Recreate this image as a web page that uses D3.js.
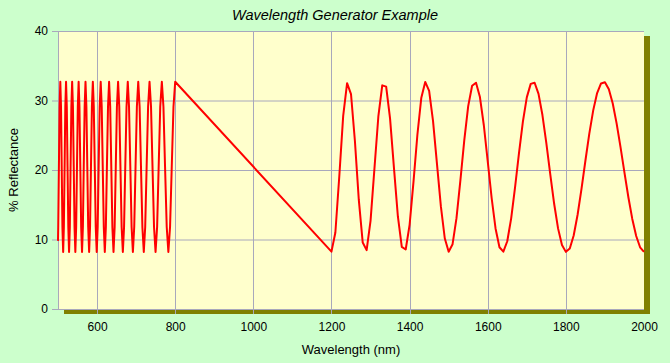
<!DOCTYPE html>
<html>
<head>
<meta charset="utf-8">
<script src="https://cdn.jsdelivr.net/npm/d3@7"></script>
<style>
  body { margin: 0; background: #ccffcc; }
  svg { display: block; font-family: "Liberation Sans", Arial, sans-serif; }
</style>
</head>
<body>
<svg id="chart"></svg>
<script>
// wavelength (nm) and % reflectance
const wavelength = [
  500.0, 500.6, 502.3, 504.1, 505.9, 507.7, 509.5, 511.3, 513.2, 515.0,
  516.9, 518.7, 520.6, 522.5, 524.4, 526.4, 528.3, 530.3, 532.2, 534.2,
  536.2, 538.2, 540.3, 542.3, 544.4, 546.5, 548.6, 550.7, 552.8, 554.9,
  557.1, 559.3, 561.5, 563.7, 565.9, 568.2, 570.4, 572.7, 575.0, 577.3,
  579.7, 582.0, 584.4, 586.8, 589.2, 591.6, 594.1, 596.6, 599.1, 601.6,
  604.1, 606.7, 609.3, 611.9, 614.5, 617.2, 619.8, 622.5, 625.2, 628.0,
  630.8, 633.6, 636.4, 639.2, 642.1, 645.0, 647.9, 650.8, 653.8, 656.8,
  659.8, 662.9, 666.0, 669.1, 672.2, 675.4, 678.6, 681.8, 685.1, 688.4,
  691.7, 695.1, 698.5, 701.9, 705.4, 708.9, 712.4, 716.0, 719.6, 723.2,
  726.9, 730.6, 734.3, 738.1, 741.9, 745.8, 749.7, 753.7, 757.7, 761.7,
  765.8, 769.9, 774.0, 778.3, 782.5, 786.8, 791.2, 795.6, 800.0,
  1200, 1210, 1220, 1230, 1240, 1250, 1260, 1270, 1280, 1290,
  1300, 1310, 1320, 1330, 1340, 1350, 1360, 1370, 1380, 1390,
  1400, 1410, 1420, 1430, 1440, 1450, 1460, 1470, 1480, 1490,
  1500, 1510, 1520, 1530, 1540, 1550, 1560, 1570, 1580, 1590,
  1600, 1610, 1620, 1630, 1640, 1650, 1660, 1670, 1680, 1690,
  1700, 1710, 1720, 1730, 1740, 1750, 1760, 1770, 1780, 1790,
  1800, 1810, 1820, 1830, 1840, 1850, 1860, 1870, 1880, 1890,
  1900, 1910, 1920, 1930, 1940, 1950, 1960, 1970, 1980, 1990, 2000
];

const reflectance = [
  9.8, 11.8, 20.5, 29.1,
  32.7, 29.1, 20.5, 11.8, 8.2, 11.8, 20.5, 29.1,
  32.7, 29.1, 20.5, 11.8, 8.2, 11.8, 20.5, 29.1,
  32.7, 29.1, 20.5, 11.8, 8.2, 11.8, 20.5, 29.1,
  32.7, 29.1, 20.5, 11.8, 8.2, 11.8, 20.5, 29.1,
  32.7, 29.1, 20.5, 11.8, 8.2, 11.8, 20.5, 29.1,
  32.7, 29.1, 20.5, 11.8, 8.2, 11.8, 20.5, 29.1,
  32.7, 29.1, 20.5, 11.8, 8.2, 11.8, 20.5, 29.1,
  32.7, 29.1, 20.5, 11.8, 8.2, 11.8, 20.5, 29.1,
  32.7, 29.1, 20.5, 11.8, 8.2, 11.8, 20.5, 29.1,
  32.7, 29.1, 20.5, 11.8, 8.2, 11.8, 20.5, 29.1,
  32.7, 29.1, 20.5, 11.8, 8.2, 11.8, 20.5, 29.1,
  32.7, 29.1, 20.5, 11.8, 8.2, 11.8, 20.5, 29.1,
  32.7, 29.1, 20.5, 11.8, 8.2, 11.8, 20.5, 29.1,
  32.7,
  8.25, 11.0, 19.07, 27.78, 32.49, 30.93, 24.17, 15.69, 9.56, 8.47,
  12.69, 20.2, 27.7, 32.18, 31.99, 27.4, 20.27, 13.31, 8.94, 8.56,
  12.11, 18.32, 25.11, 30.4, 32.67, 31.38, 27.02, 20.93, 14.79, 10.18,
  8.23, 9.32, 13.07, 18.5, 24.29, 29.19, 32.12, 32.56, 30.49, 26.44,
  21.25, 15.97, 11.59, 8.88, 8.25, 9.75, 13.05, 17.53, 22.43, 26.97,
  30.45, 32.39, 32.55, 30.96, 27.91, 23.87, 19.42, 15.14, 11.6, 9.21,
  8.22, 8.71, 10.58, 13.56, 17.29, 21.33, 25.24, 28.58, 31.07, 32.45,
  32.62, 31.62, 29.56, 26.67, 23.25, 19.61, 16.08, 12.96, 10.5, 8.88, 8.22
];

const xTicks = [600, 800, 1000, 1200, 1400, 1600, 1800, 2000];
const yTicks = [0, 10, 20, 30, 40];

const W = 670, H = 363;
const margin = { top: 31, right: 26, bottom: 54, left: 58 };
const width = W - margin.left - margin.right;
const height = H - margin.top - margin.bottom;

const svg = d3.select("#chart").attr("width", W).attr("height", H);

svg.append("rect").attr("width", W).attr("height", H).attr("fill", "#ccffcc");

const g = svg.append("g")
  .attr("transform", "translate(" + margin.left + "," + margin.top + ")");

const x = d3.scaleLinear().domain([500, 2000]).range([0, width]);
const y = d3.scaleLinear().domain([0, 40]).range([height, 0]);

// drop shadow + plot background
g.append("rect")
  .attr("x", 6).attr("y", 5)
  .attr("width", width).attr("height", height)
  .attr("fill", "#808000");
g.append("rect")
  .attr("width", width).attr("height", height)
  .attr("fill", "#ffffcc");

// grid
g.selectAll(".hgrid").data(yTicks).enter().append("line")
  .attr("x1", 0).attr("x2", width)
  .attr("y1", (d) => y(d) + 0.5).attr("y2", (d) => y(d) + 0.5)
  .attr("stroke", "#a8a8bc");
g.selectAll(".vgrid").data(xTicks.filter((d) => d < 2000)).enter().append("line")
  .attr("x1", (d) => Math.round(x(d)) + 0.5).attr("x2", (d) => Math.round(x(d)) + 0.5)
  .attr("y1", 0).attr("y2", height + 5)
  .attr("stroke", "#a8a8bc");

// axes
const yAxis = d3.axisLeft(y).tickValues(yTicks).tickSize(6).tickPadding(4);
const xAxis = d3.axisBottom(x).tickValues(xTicks).tickSize(5).tickPadding(8)
  .tickFormat(d3.format("d"));

const ya = g.append("g").call(yAxis);
ya.select(".domain").attr("stroke", "#a8a8bc").attr("d", "M0.5,0V" + height);
ya.selectAll(".tick line").attr("stroke", "#a8a8bc");
ya.selectAll(".tick text").attr("font-size", 12).attr("fill", "#000")
  .attr("font-family", "Liberation Sans, Arial, sans-serif");

const xa = g.append("g").attr("transform", "translate(0," + height + ")").call(xAxis);
xa.select(".domain").remove();
xa.selectAll(".tick line").remove();
xa.selectAll(".tick text").attr("font-size", 12).attr("fill", "#000")
  .attr("font-family", "Liberation Sans, Arial, sans-serif");

// data line
const pts = wavelength.map((w, i) => [w, reflectance[i]]);
g.append("path")
  .datum(pts)
  .attr("fill", "none")
  .attr("stroke", "#ff0000")
  .attr("stroke-width", 2)
  .attr("stroke-linejoin", "round")
  .attr("d", d3.line().x((d) => x(d[0])).y((d) => y(d[1])));

// titles
svg.append("text")
  .attr("x", W / 2).attr("y", 20)
  .attr("text-anchor", "middle")
  .attr("font-size", 14.5).attr("font-style", "italic")
  .text("Wavelength Generator Example");

svg.append("text")
  .attr("x", margin.left + width / 2).attr("y", 354)
  .attr("text-anchor", "middle")
  .attr("font-size", 13)
  .text("Wavelength (nm)");

svg.append("text")
  .attr("transform", "translate(18," + (margin.top + height / 2) + ") rotate(-90)")
  .attr("text-anchor", "middle")
  .attr("font-size", 13)
  .text("% Reflectance");
</script>
</body>
</html>
